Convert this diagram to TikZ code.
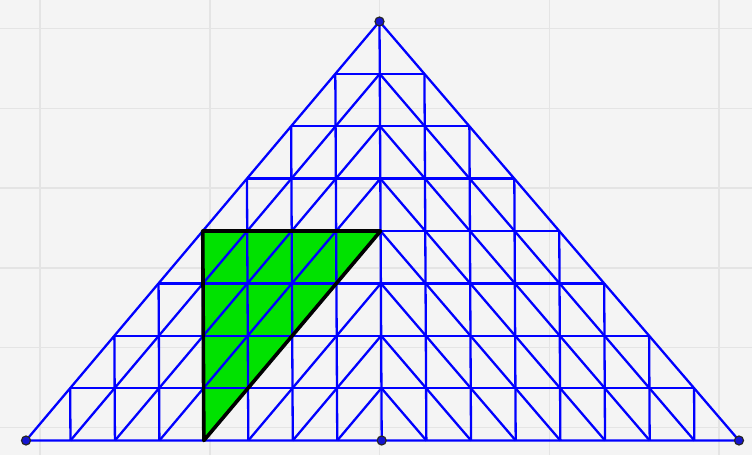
\documentclass[tikz,border=0pt]{standalone}
\usetikzlibrary{calc}
\definecolor{bgc}{RGB}{244,244,244}
\definecolor{gridc}{RGB}{228,228,228}
\definecolor{gr}{RGB}{0,226,0}
\definecolor{bl}{RGB}{0,0,255}
\definecolor{dotc}{RGB}{20,20,210}
\tikzset{
  gridline/.style={draw=gridc, line width=1.6pt},
  meshline/.style={draw=bl, line width=2.3pt},
  border/.style={draw=black, line width=3.6pt, line join=round, line cap=round},
  ptdot/.style={circle, fill=dotc, draw=black!85, line width=1.2pt, inner sep=0pt, minimum size=9pt}
}
\begin{document}
\begin{tikzpicture}[x=1pt,y=-1pt]
\fill[bgc] (0,0) rectangle (752,455);
\useasboundingbox (0,0) rectangle (752,455);
% background grid
\foreach \gx in {40,210,379.5,549.5,719}{\draw[gridline] (\gx,0) -- (\gx,455);}
\foreach \gy in {28.5,108.3,188,267.8,347.5,427.3}{\draw[gridline] (0,\gy) -- (752,\gy);}
% main points
\coordinate (A) at (379.5,21.5);
\coordinate (B) at (26,440.5);
\coordinate (C) at (739,440.5);
\coordinate (M) at (381.7,440.5);
% green triangle
\coordinate (P) at ($(A)!0.5!(B)$);
\coordinate (Q) at ($(A)!0.5!(M)$);
\coordinate (R) at ($(B)!0.5!(M)$);
\fill[gr] (P) -- (Q) -- (R) -- cycle;
% mesh
\draw[meshline] (A) -- (B) -- (C) -- cycle;
\draw[meshline] (A) -- (M);
\foreach \i in {1,...,7}{
  \draw[meshline] ($(A)!\i/8!(B)$) -- ($(A)!\i/8!(C)$);
  \draw[meshline] ($(A)!\i/8!(B)$) -- ($(M)!\i/8!(B)$);
  \draw[meshline] ($(A)!\i/8!(C)$) -- ($(M)!\i/8!(C)$);
  \draw[meshline] ($(A)!\i/8!(M)$) -- ($(B)!\i/8!(M)$);
  \draw[meshline] ($(A)!\i/8!(M)$) -- ($(C)!\i/8!(M)$);
}
% black border
\draw[border] (P) -- (Q) -- (R) -- cycle;
% points
\node[ptdot] (dA) at (A) {};
\node[ptdot] (dB) at (B) {};
\node[ptdot] (dC) at (C) {};
\node[ptdot] (dM) at (M) {};
\end{tikzpicture}
\end{document}
